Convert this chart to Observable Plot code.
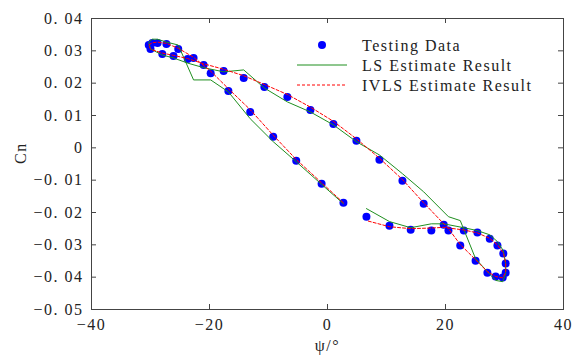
<!DOCTYPE html>
<html>
<head>
<meta charset="utf-8">
<script src="https://cdn.jsdelivr.net/npm/d3@7"></script>
<script src="https://cdn.jsdelivr.net/npm/@observablehq/plot@0.6"></script>
<style>
  body { margin: 0; background: #fff; }
  #wrap { position: relative; width: 575px; height: 360px; }
  #legend { position: absolute; left: 0; top: 0; pointer-events: none; }
</style>
</head>
<body>
<div id="wrap"></div>
<script>
// sideslip angle psi (deg), in sample order
const psi = [2.7, -1.0, -5.3, -9.2, -13.1, -16.8, -19.8, -22.7, -25.3, -27.3,
  -28.8, -29.7, -30.3, -30.0, -28.0, -26.1, -23.7, -21.0, -17.6, -14.2,
  -10.7, -6.8, -2.9, 1.0, 4.9, 8.8, 12.7, 16.3, 20.5, 22.5,
  25.1, 27.1, 28.5, 29.7, 30.2, 30.2, 29.8, 28.8, 27.5, 25.4,
  23.1, 19.7, 17.6, 14.1, 10.5, 6.6];
// Testing data Cn
const cnTest = [-0.0170, -0.0111, -0.0040, 0.0034, 0.0111, 0.0176, 0.0231, 0.0278, 0.0306, 0.0321,
  0.0324, 0.0324, 0.0318, 0.0306, 0.0290, 0.0284, 0.0275, 0.0256, 0.0238, 0.0216,
  0.0188, 0.0157, 0.0117, 0.0074, 0.0022, -0.0037, -0.0102, -0.0173, -0.0256, -0.0302,
  -0.0349, -0.0386, -0.0398, -0.0401, -0.0386, -0.0358, -0.0327, -0.0302, -0.0281, -0.0262,
  -0.0256, -0.0238, -0.0256, -0.0253, -0.0241, -0.0213];
// LS estimate Cn
const cnLS = [-0.0173, -0.0113, -0.0043, 0.0019, 0.0090, 0.0173, 0.0210, 0.0210, 0.0318, 0.0327,
  0.0336, 0.0336, 0.0327, 0.0306, 0.0287, 0.0278, 0.0262, 0.0248, 0.0235, 0.0241,
  0.0185, 0.0142, 0.0111, 0.0071, 0.0019, -0.0022, -0.0080, -0.0136, -0.0213, -0.0225,
  -0.0343, -0.0383, -0.0410, -0.0414, -0.0389, -0.0358, -0.0318, -0.0290, -0.0269, -0.0256,
  -0.0247, -0.0235, -0.0235, -0.0247, -0.0228, -0.0188];
// IVLS estimate Cn
const cnIVLS = [-0.0170, -0.0108, -0.0036, 0.0039, 0.0118, 0.0183, 0.0237, 0.0280, 0.0308, 0.0323,
  0.0327, 0.0325, 0.0318, 0.0305, 0.0293, 0.0286, 0.0276, 0.0260, 0.0243, 0.0223,
  0.0196, 0.0165, 0.0126, 0.0082, 0.0028, -0.0032, -0.0098, -0.0170, -0.0250, -0.0299,
  -0.0346, -0.0383, -0.0398, -0.0402, -0.0384, -0.0355, -0.0325, -0.0300, -0.0280, -0.0263,
  -0.0254, -0.0246, -0.0248, -0.0250, -0.0244, -0.0225];

const xTicks = [-40, -20, 0, 20, 40];
const yTicks = [-0.05, -0.04, -0.03, -0.02, -0.01, 0, 0.01, 0.02, 0.03, 0.04];
const legendLabels = ["Testing Data", "LS Estimate Result", "IVLS Estimate Result"];
const xLabel = "ψ/°";
const yLabel = "Cn";

const W = 575, H = 360, mL = 91, mR = 12, mT = 18, mB = 51;
const innerW = W - mL - mR, innerH = H - mT - mB;
const frameColor = "#444";

const rows = psi.map((p, i) => ({psi: p, test: cnTest[i], ls: cnLS[i], iv: cnIVLS[i]}));

const fmtY = d => {
  if (Math.abs(d) < 1e-12) return "0";
  const n = Math.round(Math.abs(d) * 100);
  return (d < 0 ? "\u2212" : "") + "0. " + String(n).padStart(2, "0");
};

const chart = Plot.plot({
  width: W, height: H,
  marginLeft: mL, marginRight: mR, marginTop: mT, marginBottom: mB,
  x: {domain: [-40, 40]},
  y: {domain: [-0.05, 0.04]},
  style: {fontFamily: "'Liberation Serif', serif", fontSize: "16px", letterSpacing: "1.5px", color: "#222", background: "#fff"},
  marks: [
    Plot.axisX({ticks: xTicks, tickSize: 0, tickPadding: 9, label: null}),
    Plot.axisY({ticks: yTicks, tickSize: 0, tickPadding: 8, tickFormat: fmtY, label: null}),
    Plot.tickX(xTicks, {x: d => d, insetTop: innerH - 5, stroke: frameColor}),
    Plot.tickX(xTicks, {x: d => d, insetBottom: innerH - 5, stroke: frameColor}),
    Plot.tickY(yTicks, {y: d => d, insetRight: innerW - 5, stroke: frameColor}),
    Plot.tickY(yTicks, {y: d => d, insetLeft: innerW - 5, stroke: frameColor}),
    Plot.frame({stroke: frameColor}),
    Plot.dot(rows, {x: "psi", y: "test", r: 4, fill: "#0000ff", stroke: "none"}),
    Plot.line(rows, {x: "psi", y: "ls", stroke: "#1f8f1f", strokeWidth: 1}),
    Plot.line(rows, {x: "psi", y: "iv", stroke: "#ff0000", strokeWidth: 1, strokeDasharray: "3,2"}),
    Plot.text([yLabel], {frameAnchor: "left", dx: -71, rotate: -90, text: d => d, fill: "#222"}),
    Plot.text([xLabel], {frameAnchor: "bottom", dy: 41, text: d => d, fill: "#222"})
  ]
});
document.getElementById("wrap").appendChild(chart);

// legend overlay (inside the plot, upper right)
const leg = d3.select("#wrap").append("svg")
  .attr("id", "legend").attr("width", W).attr("height", H)
  .style("font-family", "'Liberation Serif', serif").style("font-size", "16px").style("letter-spacing", "1.5px");
const legX0 = 297, legX1 = 347, legTextX = 362, legY = [45, 65, 85];
leg.append("circle").attr("cx", (legX0 + legX1) / 2).attr("cy", legY[0]).attr("r", 4).attr("fill", "#0000ff");
leg.append("line").attr("x1", legX0).attr("x2", legX1).attr("y1", legY[1]).attr("y2", legY[1])
  .attr("stroke", "#1f8f1f").attr("stroke-width", 1);
leg.append("line").attr("x1", legX0).attr("x2", legX1).attr("y1", legY[2]).attr("y2", legY[2])
  .attr("stroke", "#ff0000").attr("stroke-width", 1).attr("stroke-dasharray", "3,2");
legendLabels.forEach((t, i) => {
  leg.append("text").attr("x", legTextX).attr("y", legY[i]).attr("dy", "0.35em")
    .attr("fill", "#222").text(t);
});
</script>
</body>
</html>
